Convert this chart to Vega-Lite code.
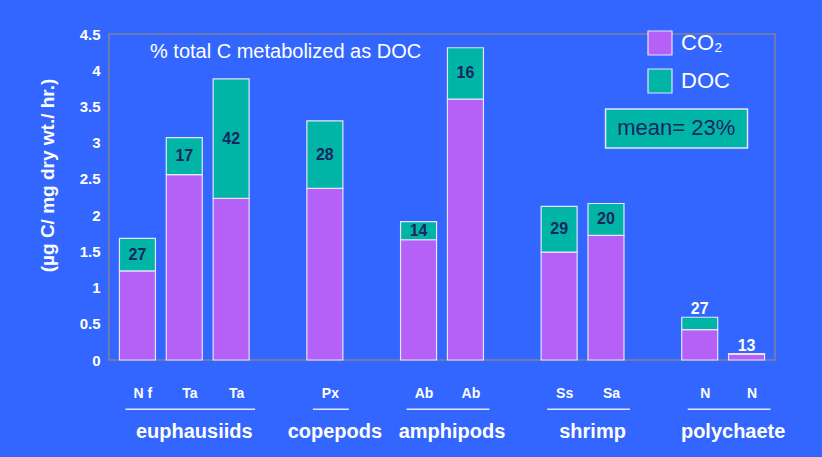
{
  "$schema": "https://vega.github.io/schema/vega-lite/v6.json",
  "width": 666,
  "height": 326,
  "autosize": {"type": "none"},
  "padding": {"left": 109, "top": 34, "right": 47, "bottom": 97},
  "background": "#3366FF",
  "config": {
    "view": {"stroke": "#80809a", "strokeWidth": 1.5},
    "font": "Liberation Sans",
    "axis": {"labelOverlap": false},
    "axisY": {"labelOverlap": false, "tickCount": 10}
  },
  "title": {
    "text": "% total C metabolized as DOC",
    "anchor": "start",
    "frame": "group",
    "dx": 41,
    "dy": 24,
    "offset": -27,
    "baseline": "alphabetic",
    "fontSize": 20,
    "fontWeight": "normal",
    "color": "white",
    "font": "Liberation Sans"
  },
  "data": {
    "values": [
      {"slot": 0, "species": "N f", "group": "euphausiids", "part": "CO₂", "value": 1.23, "label": ""},
      {"slot": 0, "species": "N f", "group": "euphausiids", "part": "DOC", "value": 0.45, "label": "27"},
      {"slot": 1, "species": "Ta", "group": "euphausiids", "part": "CO₂", "value": 2.56, "label": ""},
      {"slot": 1, "species": "Ta", "group": "euphausiids", "part": "DOC", "value": 0.51, "label": "17"},
      {"slot": 2, "species": "Ta", "group": "euphausiids", "part": "CO₂", "value": 2.23, "label": ""},
      {"slot": 2, "species": "Ta", "group": "euphausiids", "part": "DOC", "value": 1.65, "label": "42"},
      {"slot": 4, "species": "Px", "group": "copepods", "part": "CO₂", "value": 2.37, "label": ""},
      {"slot": 4, "species": "Px", "group": "copepods", "part": "DOC", "value": 0.93, "label": "28"},
      {"slot": 6, "species": "Ab", "group": "amphipods", "part": "CO₂", "value": 1.66, "label": ""},
      {"slot": 6, "species": "Ab", "group": "amphipods", "part": "DOC", "value": 0.25, "label": "14"},
      {"slot": 7, "species": "Ab", "group": "amphipods", "part": "CO₂", "value": 3.6, "label": ""},
      {"slot": 7, "species": "Ab", "group": "amphipods", "part": "DOC", "value": 0.71, "label": "16"},
      {"slot": 9, "species": "Ss", "group": "shrimp", "part": "CO₂", "value": 1.49, "label": ""},
      {"slot": 9, "species": "Ss", "group": "shrimp", "part": "DOC", "value": 0.63, "label": "29"},
      {"slot": 10, "species": "Sa", "group": "shrimp", "part": "CO₂", "value": 1.72, "label": ""},
      {"slot": 10, "species": "Sa", "group": "shrimp", "part": "DOC", "value": 0.44, "label": "20"},
      {"slot": 12, "species": "N", "group": "polychaete", "part": "CO₂", "value": 0.42, "label": ""},
      {"slot": 12, "species": "N", "group": "polychaete", "part": "DOC", "value": 0.17, "label": "27"},
      {"slot": 13, "species": "N", "group": "polychaete", "part": "CO₂", "value": 0.076, "label": ""},
      {"slot": 13, "species": "N", "group": "polychaete", "part": "DOC", "value": 0.011, "label": "13"}
    ]
  },
  "layer": [
    {
      "mark": {"type": "bar", "width": 36, "stroke": "#e4e4ff", "strokeWidth": 1.2},
      "encoding": {
        "x": {
          "field": "slot",
          "type": "quantitative",
          "scale": {"domain": [-0.5, 13.5], "nice": false, "zero": false},
          "axis": {
            "values": [0, 1, 2, 4, 6, 7, 9, 10, 12, 13],
            "labelExpr": "['N f','Ta','Ta','','Px','','Ab','Ab','','Ss','Sa','','N','N'][datum.value]",
            "title": null,
            "grid": false,
            "ticks": false,
            "domain": false,
            "labelColor": "white",
            "labelFont": "Liberation Sans",
            "labelFontSize": 14,
            "labelFontWeight": "bold",
            "labelPadding": 26,
            "labelOffset": 5,
            "labelAngle": 0,
            "labelFlush": false,
            "labelOverlap": false
          }
        },
        "y": {
          "field": "value",
          "type": "quantitative",
          "stack": "zero",
          "scale": {"domain": [0, 4.5], "nice": false},
          "axis": {
            "values": [0, 0.5, 1, 1.5, 2, 2.5, 3, 3.5, 4, 4.5],
            "labelExpr": "format(datum.value, '~g')",
            "labelOverlap": false,
            "labelFlush": false,
            "grid": false,
            "ticks": false,
            "domain": false,
            "labelColor": "white",
            "labelFont": "Liberation Sans",
            "labelFontSize": 15,
            "labelFontWeight": "bold",
            "labelPadding": 9,
            "title": "(µg C/ mg dry wt./ hr.)",
            "titleColor": "white",
            "titleFont": "Liberation Sans",
            "titleFontSize": 19,
            "titleFontWeight": "bold",
            "titleX": -62,
            "titleY": 141,
            "titleBaseline": "middle",
            "titleAlign": "center"
          }
        },
        "color": {
          "field": "part",
          "type": "nominal",
          "scale": {"domain": ["CO₂", "DOC"], "range": ["#B560F6", "#00B5A6"]},
          "legend": {
            "title": null,
            "orient": "none",
            "legendX": 538,
            "legendY": -4,
            "padding": 0,
            "symbolType": "square",
            "symbolSize": 576,
            "symbolStrokeColor": "#e4e4ff",
            "symbolStrokeWidth": 1.2,
            "labelColor": "white",
            "labelFont": "Liberation Sans",
            "labelFontSize": 22,
            "labelOffset": 8,
            "rowPadding": 8
          }
        },
        "order": {"field": "part", "sort": "ascending"}
      }
    },
    {
      "transform": [{"filter": "datum.group !== 'polychaete'"}],
      "mark": {"type": "text", "fontSize": 16, "fontWeight": "bold", "color": "#1B2560", "font": "Liberation Sans", "baseline": "middle"},
      "encoding": {
        "x": {"field": "slot", "type": "quantitative"},
        "y": {"field": "value", "type": "quantitative", "stack": "zero", "bandPosition": 0.5},
        "order": {"field": "part", "sort": "ascending"},
        "text": {"field": "label", "type": "nominal"}
      }
    },
    {
      "transform": [{"filter": "datum.group === 'polychaete'"}],
      "mark": {"type": "text", "fontSize": 16, "fontWeight": "bold", "color": "white", "font": "Liberation Sans", "baseline": "alphabetic", "dy": -3},
      "encoding": {
        "x": {"field": "slot", "type": "quantitative"},
        "y": {"field": "value", "type": "quantitative", "stack": "zero"},
        "order": {"field": "part", "sort": "ascending"},
        "text": {"field": "label", "type": "nominal"}
      }
    },
    {
      "mark": {"type": "rule", "color": "#e4e4ff", "strokeWidth": 1.5, "xOffset": -12, "x2Offset": 24},
      "encoding": {
        "x": {"aggregate": "min", "field": "slot", "type": "quantitative"},
        "x2": {"aggregate": "max", "field": "slot"},
        "y": {"datum": -0.68},
        "detail": {"field": "group", "type": "nominal"}
      }
    },
    {
      "mark": {"type": "text", "fontSize": 20, "fontWeight": "bold", "color": "white", "font": "Liberation Sans", "baseline": "middle", "align": "center", "dx": 10},
      "encoding": {
        "x": {"aggregate": "mean", "field": "slot", "type": "quantitative"},
        "y": {"datum": -1.0},
        "text": {"field": "group", "type": "nominal"}
      }
    },
    {
      "data": {"values": [{"note": "mean= 23%"}]},
      "mark": {"type": "rect", "fill": "#00B5A6", "stroke": "#e4e4ff", "strokeWidth": 1.5},
      "encoding": {
        "x": {"datum": 9.99},
        "x2": {"datum": 13.02},
        "y": {"datum": 3.465},
        "y2": {"datum": 2.927}
      }
    },
    {
      "data": {"values": [{"note": "mean= 23%"}]},
      "mark": {"type": "text", "fontSize": 22, "color": "#1B2560", "font": "Liberation Sans", "baseline": "middle", "align": "center"},
      "encoding": {
        "x": {"datum": 11.5},
        "y": {"datum": 3.196},
        "text": {"field": "note", "type": "nominal"}
      }
    }
  ]
}
